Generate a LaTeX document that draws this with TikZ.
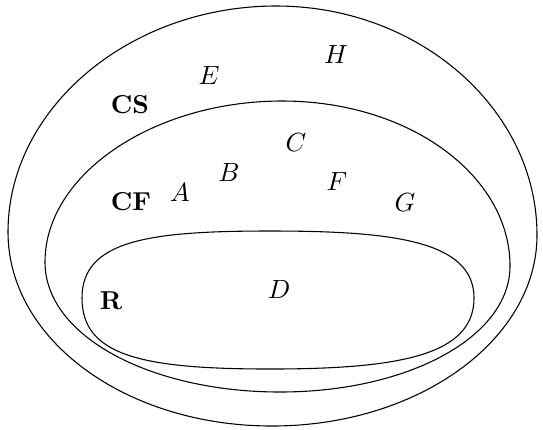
\documentclass[tikz,border=0pt]{standalone}
\begin{document}
\begin{tikzpicture}[x=0.4167pt,y=-0.4167pt,
  setline/.style={draw=black,line width=0.45pt},
  lbl/.style={inner sep=0pt,anchor=center,font=\fontsize{10.8}{13}\selectfont}]
\useasboundingbox (0,0) rectangle (543,429);
% outer set CS
\draw[setline] (276,6) .. controls (420,6) and (537,110) .. (537,235)
  .. controls (537,340) and (418,426) .. (272,426)
  .. controls (126,426) and (8,340) .. (8,232)
  .. controls (8,108) and (130,6) .. (276,6) -- cycle;
% middle set CF
\draw[setline] (282,101) .. controls (410,101) and (510,176) .. (510,266)
  .. controls (510,337) and (408,392) .. (280,392)
  .. controls (152,392) and (45,337) .. (45,262)
  .. controls (45,174) and (154,101) .. (282,101) -- cycle;
% inner set R
\draw[setline] (82,298) .. controls (82,240) and (150,231) .. (270,231)
  .. controls (390,231) and (474,240) .. (474,298)
  .. controls (474,355) and (400,369) .. (270,369)
  .. controls (140,369) and (82,355) .. (82,298) -- cycle;
\node[lbl] (cs) at (130,105) {\textbf{CS}};
\node[lbl] (e) at (209,76) {$E$};
\node[lbl] (h) at (336,55) {$H$};
\node[lbl] (c) at (296,143) {$C$};
\node[lbl] (b) at (229,173) {$B$};
\node[lbl] (a) at (180,193) {$A$};
\node[lbl] (f) at (337,182) {$F$};
\node[lbl] (g) at (405,203) {$G$};
\node[lbl] (cf) at (131,202) {\textbf{CF}};
\node[lbl] (d) at (279,290) {$D$};
\node[lbl] (r) at (111,301) {\textbf{R}};
\end{tikzpicture}
\end{document}
